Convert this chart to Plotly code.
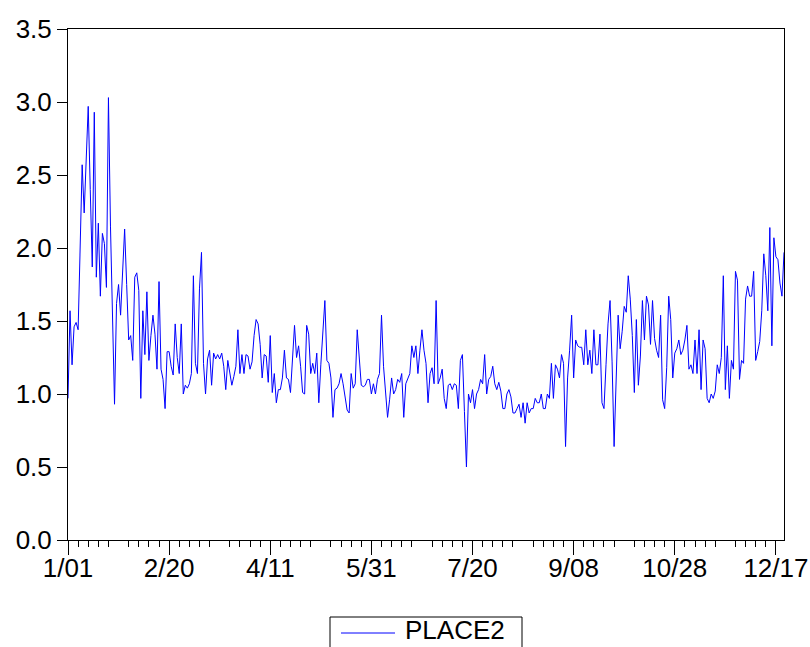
import plotly.graph_objects as go

# Daily observations of PLACE2, starting 1 January
place2 = [
    0.97, 1.57, 1.20, 1.46, 1.49, 1.44, 2.00, 2.57, 2.24, 2.60,
    2.97, 2.40, 1.87, 2.93, 1.80, 2.17, 1.67, 2.10, 2.03, 1.73,
    3.03, 2.15, 1.50, 0.93, 1.62, 1.75, 1.54, 1.85, 2.13, 1.75,
    1.37, 1.40, 1.23, 1.80, 1.83, 1.71, 0.97, 1.57, 1.27, 1.70,
    1.23, 1.40, 1.54, 1.41, 1.17, 1.77, 1.17, 1.10, 0.90, 1.29,
    1.29, 1.19, 1.13, 1.48, 1.25, 1.14, 1.48, 1.00, 1.06, 1.04,
    1.07, 1.14, 1.81, 1.21, 1.14, 1.72, 1.97, 1.21, 1.00, 1.24,
    1.30, 1.06, 1.28, 1.24, 1.27, 1.24, 1.28, 1.19, 1.03, 1.23,
    1.14, 1.06, 1.12, 1.19, 1.44, 1.14, 1.27, 1.14, 1.27, 1.26,
    1.17, 1.22, 1.40, 1.51, 1.48, 1.34, 1.11, 1.27, 1.26, 1.08,
    1.40, 1.01, 1.14, 0.94, 1.03, 1.03, 1.11, 1.30, 1.11, 1.10,
    1.01, 1.22, 1.47, 1.25, 1.33, 1.19, 1.01, 1.00, 1.47, 1.41,
    1.14, 1.21, 1.14, 1.28, 0.94, 1.20, 1.43, 1.64, 1.23, 1.21,
    1.11, 0.84, 1.03, 1.04, 1.07, 1.14, 1.07, 0.99, 0.89, 0.87,
    1.14, 1.04, 1.07, 1.44, 1.23, 1.06, 1.05, 1.06, 1.10, 1.10,
    1.00, 1.07, 1.00, 1.10, 1.14, 1.54, 1.19, 0.99, 0.84, 0.96,
    1.11, 1.00, 1.03, 1.10, 1.08, 1.14, 0.84, 1.07, 1.11, 1.14,
    1.33, 1.25, 1.33, 1.14, 1.30, 1.44, 1.30, 1.21, 0.94, 1.14,
    1.18, 1.07, 1.64, 1.07, 1.11, 1.17, 0.97, 0.90, 1.06, 1.07,
    1.03, 1.07, 1.06, 0.90, 1.23, 1.27, 0.88, 0.50, 1.00, 0.94,
    1.03, 0.90, 1.00, 1.03, 1.10, 1.07, 1.27, 1.00, 1.10, 1.12,
    1.19, 1.07, 1.03, 1.08, 1.02, 0.90, 0.90, 1.00, 1.03, 0.98,
    0.87, 0.87, 0.90, 0.93, 0.84, 0.94, 0.80, 0.94, 0.87, 0.90,
    0.90, 0.97, 0.94, 0.94, 1.00, 0.90, 0.90, 1.00, 0.97, 1.21,
    0.97, 1.20, 1.17, 1.11, 1.27, 1.21, 0.64, 1.11, 1.30, 1.54,
    1.11, 1.37, 1.33, 1.32, 1.32, 1.20, 1.44, 1.20, 1.30, 1.14,
    1.44, 1.20, 1.20, 1.41, 0.94, 0.90, 1.20, 1.48, 1.64, 1.22,
    0.64, 1.10, 1.54, 1.31, 1.43, 1.60, 1.56, 1.81, 1.65, 1.40,
    1.01, 1.51, 1.06, 1.26, 1.64, 1.37, 1.67, 1.61, 1.34, 1.64,
    1.38, 1.30, 1.25, 1.54, 0.96, 0.90, 1.18, 1.67, 1.51, 1.11,
    1.28, 1.31, 1.37, 1.27, 1.30, 1.37, 1.47, 1.17, 1.20, 1.14,
    1.37, 1.14, 1.44, 1.03, 1.37, 1.31, 0.97, 0.94, 1.00, 0.97,
    1.02, 1.20, 1.14, 1.25, 1.81, 1.03, 1.33, 0.97, 1.23, 1.17,
    1.84, 1.78, 1.10, 1.23, 1.21, 1.65, 1.74, 1.67, 1.67, 1.84,
    1.23, 1.29, 1.36, 1.57, 1.96, 1.81, 1.57, 2.14, 1.33, 2.07,
    1.94, 1.92, 1.76, 1.67, 1.97,
]

# Date labels every 50 observations
tick_labels = ["1/01", "2/20", "4/11", "5/31", "7/20", "9/08", "10/28", "12/17"]
y_ticks = [0.0, 0.5, 1.0, 1.5, 2.0, 2.5, 3.0, 3.5]
series_name = "PLACE2"
line_color = "#0000ff"

obs = list(range(len(place2)))
last = len(place2) - 1
major_ticks = obs[::50]
mid_ticks = [t for t in obs if t % 50 == 25]
small_ticks = [t for t in obs if t % 5 == 0 and t % 25 != 0]

FONT = "Liberation Sans, Arial, Helvetica, sans-serif"
W, H = 810, 647
ML, MR, MT, MB = 68, 26, 29, 107
PW, PH = W - ML - MR, H - MT - MB


def px(x):
    """Horizontal pixel position -> paper fraction."""
    return (x - ML) / PW


def py(y):
    """Vertical pixel position (from top) -> paper fraction."""
    return (H - MB - y) / PH


fig = go.Figure()
fig.add_trace(go.Scatter(
    x=obs, y=place2, mode="lines", name=series_name,
    line=dict(color=line_color, width=1),
    hoverinfo="skip", showlegend=False,
))

# Boxed key below the plot: frame, line sample and series name
legend_shapes = [
    dict(type="rect", xref="paper", yref="paper",
         x0=px(330), x1=px(522), y0=py(617), y1=py(665),
         line=dict(color="black", width=1), fillcolor="white", layer="above"),
    dict(type="line", xref="paper", yref="paper",
         x0=px(341), x1=px(395), y0=py(633), y1=py(633),
         line=dict(color=line_color, width=1), layer="above"),
]
legend_text = dict(
    text=series_name, xref="paper", yref="paper",
    x=px(404), y=py(630), xanchor="left", yanchor="middle",
    showarrow=False, borderpad=0, font=dict(size=26, color="black"),
)

fig.update_layout(
    width=W, height=H,
    margin=dict(l=ML, r=MR, t=MT, b=MB, autoexpand=False),
    paper_bgcolor="white", plot_bgcolor="white",
    font=dict(family=FONT, size=26, color="black"),
    showlegend=False,
    shapes=legend_shapes,
    annotations=[legend_text],
    xaxis=dict(
        range=[0, last], showgrid=False, zeroline=False, automargin=False,
        showline=True, mirror=True, linecolor="black", linewidth=1,
        tickmode="array", tickvals=major_ticks, ticktext=tick_labels,
        ticks="outside", ticklen=14, tickwidth=1, tickcolor="black",
        ticklabelstandoff=-9,
        minor=dict(tickmode="array", tickvals=small_ticks, ticks="outside",
                   ticklen=6, tickwidth=1, tickcolor="black", showgrid=False),
    ),
    xaxis2=dict(
        overlaying="x", matches="x", anchor="y", side="bottom",
        range=[0, last], showgrid=False, zeroline=False, showline=False,
        automargin=False,
        tickmode="array", tickvals=mid_ticks, showticklabels=False,
        ticks="outside", ticklen=10, tickwidth=1, tickcolor="black",
    ),
    yaxis=dict(
        range=[0, 3.5], showgrid=False, zeroline=False, automargin=False,
        showline=True, mirror=True, linecolor="black", linewidth=1,
        tickmode="array", tickvals=y_ticks, tickformat=".1f",
        ticks="outside", ticklen=10, tickwidth=1, tickcolor="black",
    ),
)

fig.write_html("out.html")
